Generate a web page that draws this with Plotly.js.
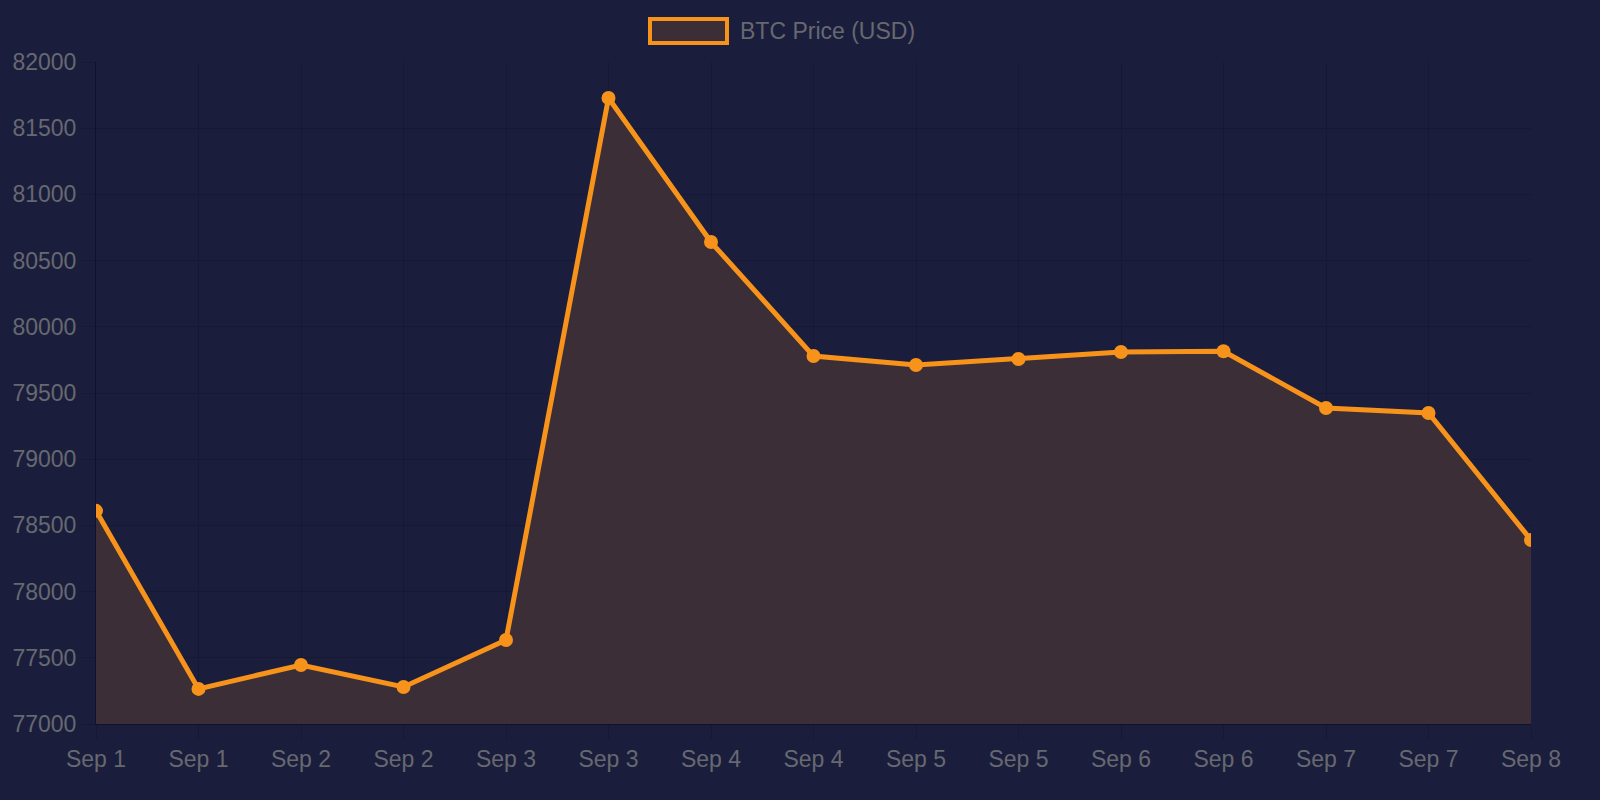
<!DOCTYPE html>
<html>
<head>
<meta charset="utf-8">
<script src="https://cdn.plot.ly/plotly-3.0.1.min.js"></script>
<style>
  html, body { margin: 0; padding: 0; background: #1a1e3c; }
  #chart { width: 1600px; height: 800px; }
</style>
</head>
<body>
<div id="chart"></div>
<script>
  // BTC price, two readings per day
  var tickLabels = ["Sep 1", "Sep 1", "Sep 2", "Sep 2", "Sep 3", "Sep 3", "Sep 4", "Sep 4",
                    "Sep 5", "Sep 5", "Sep 6", "Sep 6", "Sep 7", "Sep 7", "Sep 8"];
  var prices = [78610, 77265, 77446, 77280, 77635, 81728, 80640, 79779,
                79711, 79757, 79810, 79815, 79387, 79349, 78390];
  var yTicks = [77000, 77500, 78000, 78500, 79000, 79500, 80000, 80500, 81000, 81500, 82000];

  var ORANGE = "#f7931a";
  var FILL = "#3b2e36";
  var TEXT = "#676870";
  var GRID = "rgba(0,0,0,0.15)";

  var positions = tickLabels.map(function (_, i) { return i; });

  var trace = {
    type: "scatter",
    mode: "lines+markers",
    x: positions,
    y: prices,
    name: "BTC Price (USD)",
    fill: "tozeroy",
    fillcolor: FILL,
    line: { color: ORANGE, width: 5 },
    marker: { color: ORANGE, size: 14 },
    showlegend: false,
    hoverinfo: "skip"
  };

  var layout = {
    width: 1600,
    height: 800,
    paper_bgcolor: "#1a1e3c",
    plot_bgcolor: "#1a1e3c",
    margin: { l: 96, r: 69, t: 62, b: 76 },
    font: { family: "Liberation Sans, Arial, sans-serif", color: TEXT, size: 23 },
    xaxis: {
      range: [0, tickLabels.length - 1],
      tickmode: "array",
      tickvals: positions,
      ticktext: tickLabels,
      showgrid: true,
      gridcolor: GRID,
      gridwidth: 1,
      zeroline: false,
      showline: true,
      linecolor: "rgba(0,0,0,0.35)",
      linewidth: 1,
      ticks: "outside",
      ticklen: 14,
      tickcolor: GRID,
      tickfont: { size: 23, color: TEXT },
      fixedrange: true
    },
    yaxis: {
      range: [77000, 82000],
      tickmode: "array",
      tickvals: yTicks,
      showgrid: true,
      gridcolor: GRID,
      gridwidth: 1,
      zeroline: false,
      showline: true,
      linecolor: "rgba(0,0,0,0.35)",
      linewidth: 1,
      ticks: "outside",
      ticklen: 14,
      tickcolor: GRID,
      tickfont: { size: 23, color: TEXT },
      tickformat: "d",
      fixedrange: true
    },
    shapes: [{
      type: "rect",
      xref: "paper", yref: "paper",
      x0: (650 - 96) / 1435, x1: (727 - 96) / 1435,
      y0: (724 - 43) / 662, y1: (724 - 19) / 662,
      fillcolor: FILL,
      line: { color: ORANGE, width: 4 }
    }],
    annotations: [{
      xref: "paper", yref: "paper",
      x: (738 - 96) / 1435, y: (724 - 31) / 662,
      xanchor: "left", yanchor: "middle",
      text: "BTC Price (USD)",
      showarrow: false,
      font: { size: 23, color: TEXT }
    }]
  };

  Plotly.newPlot("chart", [trace], layout, { displayModeBar: false, staticPlot: true });
</script>
</body>
</html>
